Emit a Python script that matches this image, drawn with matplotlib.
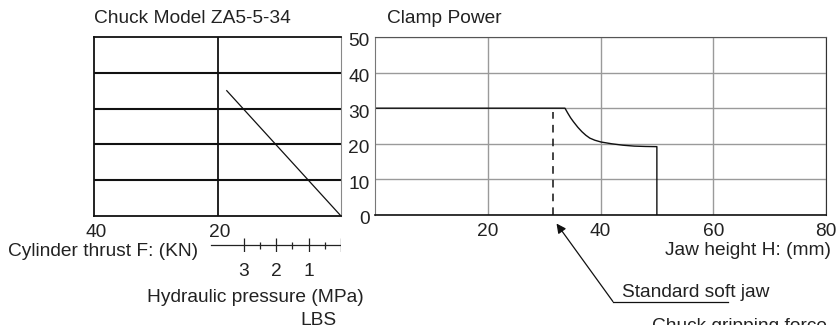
import matplotlib
matplotlib.use('Agg')
import matplotlib.pyplot as plt
from matplotlib.transforms import ScaledTranslation

plt.rcParams['font.family'] = ['Liberation Sans', 'DejaVu Sans']
plt.rcParams['font.size'] = 13.8
plt.rcParams['text.color'] = '#222222'

# left chart: cylinder thrust (kN) vs chuck gripping force
thrust_kn = [18.5, 0]
grip_left = [35, 0]
thrust_ticks = [40, 20]
grip_levels = [10, 20, 30, 40]

# pressure scale under the left chart
mpa_per_kn = 1 / 5.25
pressure_major = [3, 2, 1, 0]
pressure_minor = [2.5, 1.5, 0.5]
pressure_labels = ['3', '2', '1']
pressure_span = [4, 0]

# right chart: jaw height vs clamp power
jaw_h = [0, 33.7, 34.2, 34.7, 35.2, 36.0, 36.7, 37.4, 38.1, 39.0, 40.1,
         42.0, 44.0, 46.0, 48.0, 50, 50]
clamp = [30, 30, 28.6, 27.3, 26.2, 24.6, 23.4, 22.4, 21.6, 21.0, 20.5,
         20.0, 19.6, 19.35, 19.25, 19.2, 0]
jaw_ticks = [20, 40, 60, 80]
clamp_ticks = [0, 10, 20, 30, 40, 50]
soft_jaw_h = 31.5
soft_jaw_top = 29

W, H = 840, 325
fig = plt.figure(figsize=(W / 100, H / 100), dpi=100)


def box(x0, y0, x1, y1):
    return [x0 / W, 1 - y1 / H, (x1 - x0) / W, (y1 - y0) / H]


def shifted(labels, dx, dy):
    off = ScaledTranslation(dx / 100, dy / 100, fig.dpi_scale_trans)
    for lab in labels:
        lab.set_transform(lab.get_transform() + off)


# ---- left chart
ax = fig.add_axes(box(94, 37, 341, 216))
ax.set_xlim(40, 0)
ax.set_ylim(0, 50)
for y in grip_levels:
    ax.axhline(y, color='#111111', lw=1.5)
ax.axvline(20, color='#111111', lw=1.3)
ax.plot(thrust_kn, grip_left, color='#111111', lw=0.9)
ax.set_xticks(thrust_ticks)
ax.set_yticks([])
ax.tick_params(axis='x', length=0, pad=6, labelcolor='#222222')
shifted(ax.get_xticklabels(), 2, 0)
for s in ['left', 'top', 'bottom']:
    ax.spines[s].set_color('#111111')
    ax.spines[s].set_linewidth(1.3)
ax.spines['right'].set_color('#888888')

# ---- pressure scale
ap = fig.add_axes(box(94, 238, 341, 252))
ap.set_xlim(40, 0)
ap.set_ylim(-1, 1)
ap.axis('off')
ap.plot([p / mpa_per_kn for p in pressure_span], [0, 0], color='#222222', lw=0.9)
ap.vlines([p / mpa_per_kn for p in pressure_major], -1, 1, color='#222222', lw=0.9)
ap.vlines([p / mpa_per_kn for p in pressure_minor], -0.5, 0.5, color='#222222', lw=0.9)
for p, lab in zip(pressure_major, pressure_labels):
    ap.text(p / mpa_per_kn, -1.68, lab, ha='center', va='baseline',
            transform=ap.get_xaxis_transform())

# ---- right chart
ar = fig.add_axes(box(375, 37, 826, 215))
ar.set_xlim(0, 80)
ar.set_ylim(0, 50)
ar.set_xticks(jaw_ticks)
ar.set_yticks(clamp_ticks)
ar.grid(True, color='#9a9a9a', lw=1)
ar.tick_params(length=0, pad=4, labelcolor='#222222')
ar.tick_params(axis='x', pad=6)
shifted(ar.get_yticklabels(), 0, -3)
ar.plot(jaw_h, clamp, color='#111111', lw=1)
ar.plot([soft_jaw_h, soft_jaw_h], [0, soft_jaw_top], color='#111111', lw=1.1,
        dashes=(5, 4))
ar.spines['left'].set_color('#777777')
ar.spines['top'].set_color('#555555')
ar.spines['right'].set_color('#333333')
ar.spines['bottom'].set_color('#111111')
ar.spines['bottom'].set_linewidth(1.2)

ar.annotate('', xy=(32.2, -2.4), xytext=(42.2, -24.3), xycoords='data',
            arrowprops=dict(arrowstyle='-|>', color='#111111', lw=0.9,
                            mutation_scale=14, shrinkA=0, shrinkB=0),
            annotation_clip=False)
ar.plot([42.2, 62.6], [-24.3, -24.3], color='#111111', lw=0.9, clip_on=False)
ar.text(43.8, -23.1, 'Standard soft jaw', ha='left', va='baseline')
ar.text(1.01, -0.225, 'Jaw height H: (mm)', ha='right', va='baseline',
        transform=ar.transAxes)

# ---- free texts
fig.text(94 / W, 1 - 23.3 / H, 'Chuck Model ZA5-5-34', ha='left', va='baseline')
fig.text(387 / W, 1 - 23.3 / H, 'Clamp Power', ha='left', va='baseline')
fig.text(8 / W, 1 - 255.5 / H, 'Cylinder thrust F: (KN)', ha='left', va='baseline')
fig.text(255 / W, 1 - 301.7 / H, 'Hydraulic pressure (MPa)', ha='center',
         va='baseline')
fig.text(318 / W, 1 - 325.4 / H, 'LBS', ha='center', va='baseline')
fig.text(652 / W, 1 - 331 / H, 'Chuck gripping force', ha='left', va='baseline')

fig.savefig('out.png', dpi=100)
